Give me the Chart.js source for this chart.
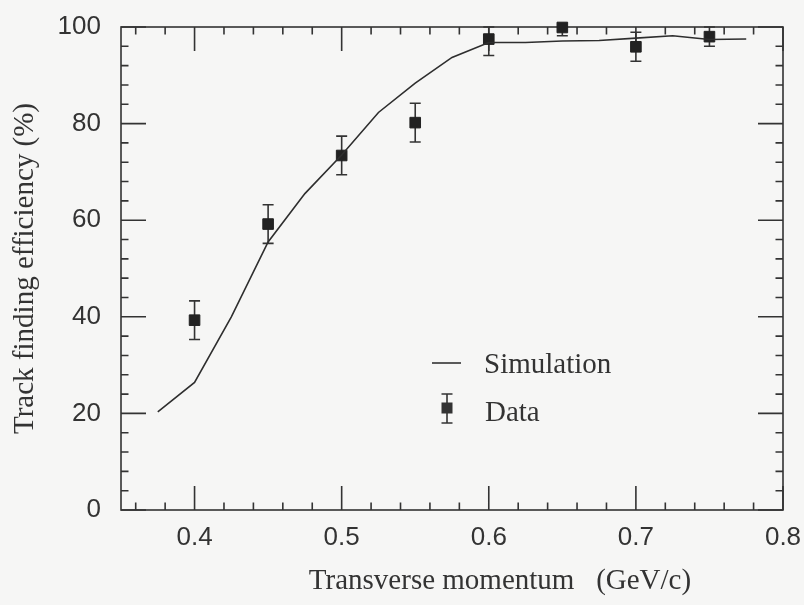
<!DOCTYPE html>
<html>
<head>
<meta charset="utf-8">
<script src="https://cdn.jsdelivr.net/npm/chart.js@4.4.1/dist/chart.umd.min.js"></script>
<style>
  html, body { margin: 0; padding: 0; background: #f6f6f5; }
  #wrap { width: 804px; height: 605px; }
</style>
</head>
<body>
<div id="wrap"><canvas id="chart"></canvas></div>
<script>
// measured points (GeV/c, %, +-%)
const dataMomentum = [0.40, 0.45, 0.50, 0.55, 0.60, 0.65, 0.70, 0.75];
const dataEfficiency = [39.3, 59.2, 73.4, 80.2, 97.5, 99.9, 95.9, 98.0];
const dataError = [4.0, 4.0, 4.0, 4.0, 3.4, 1.7, 3.0, 2.0];

// simulation curve
const simMomentum = [0.375, 0.400, 0.425, 0.450, 0.475, 0.500, 0.525, 0.550, 0.575,
                     0.600, 0.625, 0.650, 0.675, 0.700, 0.725, 0.750, 0.775];
const simEfficiency = [20.3, 26.4, 40.0, 55.5, 65.5, 73.5, 82.3, 88.4, 93.7,
                       96.8, 96.8, 97.1, 97.2, 97.7, 98.2, 97.4, 97.5];

const xTicks = [0.4, 0.5, 0.6, 0.7, 0.8];
const yTicks = [0, 20, 40, 60, 80, 100];

const ink = '#333';
const tickFont = { family: '"Liberation Sans", Arial, sans-serif', size: 26 };
const serif = '29px "Liberation Serif", "Times New Roman", serif';

// minor tick positions (axis decoration only)
const xMinor = [];
for (let v = 0.36; v < 0.8; v += 0.02) xMinor.push(+v.toFixed(2));
const yMinor = [];
for (let v = 4; v < 100; v += 4) yMinor.push(v);

function errorBar(ctx, x, yTop, yBot, cap) {
    ctx.beginPath();
    ctx.moveTo(x, yTop); ctx.lineTo(x, yBot);
    ctx.moveTo(x - cap / 2, yTop); ctx.lineTo(x + cap / 2, yTop);
    ctx.moveTo(x - cap / 2, yBot); ctx.lineTo(x + cap / 2, yBot);
    ctx.stroke();
}

// labels may hang over the frame; keep the plot box where the padding puts it
function noOverhang(axis) {
    axis.paddingTop = axis.paddingBottom = axis.paddingLeft = axis.paddingRight = 0;
}

const framePlugin = {
    id: 'frame',
    beforeDatasetsDraw(chart) {
        const { ctx, chartArea: a, scales: { x, y } } = chart;
        ctx.save();
        ctx.strokeStyle = ink;
        ctx.lineWidth = 1.6;
        ctx.strokeRect(a.left, a.top, a.right - a.left, a.bottom - a.top);

        ctx.beginPath();
        const xt = (v, len) => {
            const px = x.getPixelForValue(v);
            ctx.moveTo(px, a.bottom); ctx.lineTo(px, a.bottom - len);
            ctx.moveTo(px, a.top); ctx.lineTo(px, a.top + len);
        };
        const yt = (v, len) => {
            const py = y.getPixelForValue(v);
            ctx.moveTo(a.left, py); ctx.lineTo(a.left + len, py);
            ctx.moveTo(a.right, py); ctx.lineTo(a.right - len, py);
        };
        xTicks.forEach(v => xt(v, 24));
        xMinor.forEach(v => { if (!xTicks.some(t => Math.abs(t - v) < 1e-6)) xt(v, 7.5); });
        yTicks.forEach(v => yt(v, 25));
        yMinor.forEach(v => { if (!yTicks.includes(v)) yt(v, 7.5); });
        ctx.stroke();

        // error bars
        dataMomentum.forEach((m, i) => {
            const px = x.getPixelForValue(m);
            const hi = Math.min(dataEfficiency[i] + dataError[i], y.max);
            errorBar(ctx, px, y.getPixelForValue(hi),
                     y.getPixelForValue(dataEfficiency[i] - dataError[i]), 11);
        });
        ctx.restore();
    },
    afterDraw(chart) {
        const { ctx, chartArea: a } = chart;
        ctx.save();
        ctx.fillStyle = ink;
        ctx.strokeStyle = ink;
        ctx.font = serif;

        // axis titles
        ctx.textAlign = 'center';
        ctx.textBaseline = 'alphabetic';
        ctx.fillText('Transverse momentum   (GeV/c)', (a.left + a.right) / 2 + 48, a.bottom + 79);
        ctx.save();
        ctx.translate(33, (a.top + a.bottom) / 2);
        ctx.rotate(-Math.PI / 2);
        ctx.fillText('Track finding efficiency (%)', 0, 0);
        ctx.restore();

        // legend
        const lx = a.left + 311, ly = a.top + 336;
        ctx.lineWidth = 1.6;
        ctx.beginPath();
        ctx.moveTo(lx, ly); ctx.lineTo(lx + 29, ly);
        ctx.stroke();
        errorBar(ctx, lx + 15, ly + 31, ly + 60, 11);
        ctx.fillRect(lx + 15 - 5.5, ly + 45 - 5.5, 11, 11);
        ctx.textAlign = 'left';
        ctx.fillText('Simulation', lx + 52, ly + 10);
        ctx.fillText('Data', lx + 53, ly + 58);
        ctx.restore();
    }
};

new Chart(document.getElementById('chart'), {
    type: 'scatter',
    data: {
        datasets: [
            {
                label: 'Simulation',
                data: simMomentum.map((m, i) => ({ x: m, y: simEfficiency[i] })),
                showLine: true,
                borderColor: '#2e2e2e',
                borderWidth: 1.6,
                pointRadius: 0,
                tension: 0
            },
            {
                label: 'Data',
                data: dataMomentum.map((m, i) => ({ x: m, y: dataEfficiency[i] })),
                pointStyle: 'rect',
                pointRadius: 7.5,
                borderWidth: 1,
                backgroundColor: '#222',
                borderColor: '#222',
                clip: false
            }
        ]
    },
    options: {
        responsive: true,
        maintainAspectRatio: false,
        animation: false,
        layout: { padding: { top: 27, right: 21, left: 0, bottom: 0 } },
        plugins: {
            legend: { display: false },
            tooltip: { enabled: false }
        },
        scales: {
            x: {
                type: 'linear',
                min: 0.35,
                max: 0.8,
                grid: { display: false, drawTicks: false },
                border: { display: false },
                afterBuildTicks: axis => { axis.ticks = xTicks.map(v => ({ value: v })); },
                afterFit: axis => { axis.height = 95; noOverhang(axis); },
                ticks: {
                    color: ink,
                    font: tickFont,
                    padding: 12,
                    maxRotation: 0,
                    callback: v => v.toFixed(1)
                }
            },
            y: {
                min: 0,
                max: 100,
                grid: { display: false, drawTicks: false },
                border: { display: false },
                afterBuildTicks: axis => { axis.ticks = yTicks.map(v => ({ value: v })); },
                afterFit: axis => { axis.width = 121; noOverhang(axis); },
                ticks: {
                    color: ink,
                    font: tickFont,
                    padding: 20
                }
            }
        }
    },
    plugins: [framePlugin]
});
</script>
</body>
</html>
